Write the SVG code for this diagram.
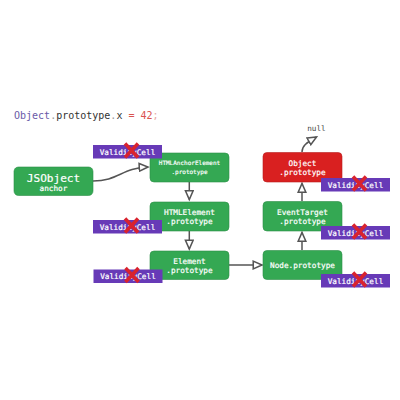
<svg xmlns="http://www.w3.org/2000/svg" width="400" height="400" viewBox="0 0 400 400">
<style>
text{font-family:"DejaVu Sans Mono","Liberation Mono",monospace;text-anchor:middle}
.n{fill:#34a853;stroke:#2c8f47;stroke-width:.6}
.r{fill:#d92020;stroke:#b81c1c;stroke-width:.6}
.t{fill:#fff;stroke:#fff;stroke-width:.2;font-size:7.700px}
.s{fill:#fff;stroke:#fff;stroke-width:.15;font-size:6px}
.p{fill:#673ab7}
.v{fill:#fff;stroke:#fff;stroke-width:.2;font-size:7.700px}
.x{stroke:#d9232e;stroke-width:3.500;fill:none}
.c{stroke:#555;stroke-width:1.500;fill:none;marker-end:url(#a)}
</style>
<defs>
<marker id="a" markerUnits="userSpaceOnUse" markerWidth="12" markerHeight="10" refX="8" refY="4" orient="auto" viewBox="0 0 10 8">
<path d="M.7.8L8 4 .7 7.2Z" fill="#fff" stroke="#555" stroke-width="1.300"/>
</marker>
<g id="vc"><rect class="p" width="69" height="13.500"/><text class="v" x="34.500" y="9.500">ValidityCell</text><path class="x" d="M32-1.500L45 12.500M45-1.500L32 12.500"/></g>
</defs>
<text x="14" y="119" style="text-anchor:start;font-size:10px" fill="#333"><tspan fill="#6a5aa8">Object</tspan><tspan fill="#999">.</tspan>prototype<tspan fill="#999">.</tspan>x <tspan fill="#d9534f">= 42</tspan><tspan fill="#e8a8a4">;</tspan></text>
<g id="connectors">
<path class="c" d="M93 181C118 181 122 168 148 167"/>
<path class="c" d="M189.300 182V199.500"/>
<path class="c" d="M189.300 231V249"/>
<path class="c" d="M229 265H262"/>
<path class="c" d="M302 250V232.500"/>
<path class="c" d="M302 201V183.500"/>
<path class="c" d="M302 152C302 146 306 143 316.500 137"/>
</g>
<g id="JSObject"><rect class="n" x="14" y="167" width="79" height="28.500" rx="4.500"/><text x="53.500" y="181.500" fill="#fff" stroke="#fff" stroke-width=".2" style="font-size:11.100px">JSObject</text><text class="t" x="53.500" y="191">anchor</text></g>
<g id="HTMLAnchorElement"><rect class="n" x="150" y="153" width="79" height="29" rx="4"/><text class="s" x="189.500" y="165">HTMLAnchorElement</text><text class="s" x="189.500" y="174">.prototype</text></g>
<g id="HTMLElement"><rect class="n" x="150" y="202" width="79" height="29" rx="4"/><text class="t" x="189.500" y="215">HTMLElement</text><text class="t" x="189.500" y="224">.prototype</text></g>
<g id="Element"><rect class="n" x="150" y="251" width="79" height="28.500" rx="4"/><text class="t" x="189.500" y="263.500">Element</text><text class="t" x="189.500" y="273">.prototype</text></g>
<g id="Node"><rect class="n" x="263" y="250.500" width="79" height="29" rx="4"/><text class="t" x="302.500" y="268">Node.prototype</text></g>
<g id="EventTarget"><rect class="n" x="263" y="201.500" width="79" height="29.500" rx="4"/><text class="t" x="302.500" y="215">EventTarget</text><text class="t" x="302.500" y="224">.prototype</text></g>
<g id="Object"><rect class="r" x="263" y="152.500" width="79" height="29.500" rx="4"/><text class="t" x="302.500" y="165.500">Object</text><text class="t" x="302.500" y="175">.prototype</text></g>
<g id="null"><text x="316.500" y="130.500" fill="#444" style="font-size:7.700px">null</text></g>
<use id="vc1" href="#vc" x="93" y="145"/>
<use id="vc2" href="#vc" x="93" y="220"/>
<use id="vc3" href="#vc" x="93.500" y="269.500"/>
<use id="vc4" href="#vc" x="321" y="178"/>
<use id="vc5" href="#vc" x="321" y="226"/>
<use id="vc6" href="#vc" x="321" y="274"/>
</svg>
